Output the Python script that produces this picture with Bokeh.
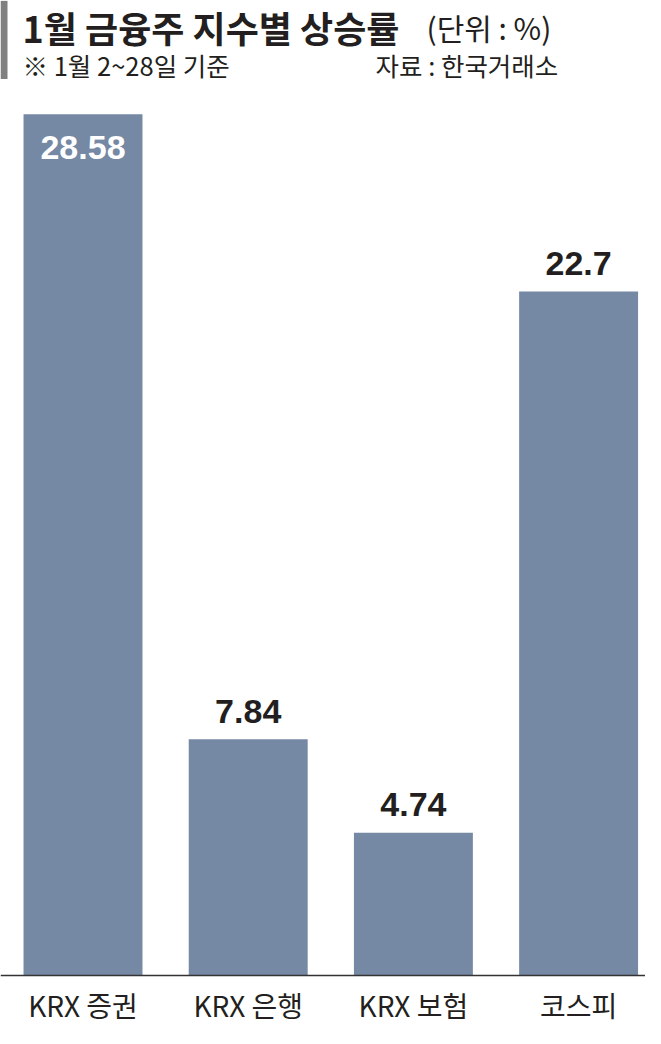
from bokeh.plotting import figure
from bokeh.models import Range1d, Span
from bokeh.core.properties import value
from bokeh.embed import file_html
from bokeh.resources import INLINE

# ---- data ----
categories = ["KRX 증권", "KRX 은행", "KRX 보험", "코스피"]
rates = [28.58, 7.84, 4.74, 22.7]
rate_labels = ["28.58", "7.84", "4.74", "22.7"]
title_text = "1월 금융주 지수별 상승률"
unit_text = "(단위 : %)"
note_text = "※ 1월 2~28일 기준"
source_text = "자료 : 한국거래소"

# ---- layout constants ----
W, H = 645, 1028
SY_A, SY_B = 0.16, 0.9797          # vertical map: canvas px = A + B * reference px
BASE_PX = SY_A + SY_B * 995         # baseline, px from top of canvas
PX_PER = 30.756 * SY_B              # px per percentage point
XPX = 165.2                         # px per category step
X0 = -82.5 / XPX                    # data x at left edge

def rx(ref):
    return X0 + ref / XPX

def ry(ref):
    fy = SY_A + SY_B * ref
    return (BASE_PX - fy) / PX_PER

KR = "Noto Sans CJK KR"
NUM = "Liberation Sans"
DARK = "#231f20"
BAR = "#7588a4"

p = figure(width=W, height=H, output_backend="svg", toolbar_location=None,
           x_range=Range1d(X0, X0 + W / XPX),
           y_range=Range1d(-(H - BASE_PX) / PX_PER, BASE_PX / PX_PER),
           min_border=0)
p.axis.visible = False
p.grid.visible = False
p.outline_line_color = None
p.background_fill_color = "white"
p.border_fill_color = "white"

xs = list(range(len(categories)))

# bars
p.vbar(x=xs, top=rates, bottom=0, width=0.72, fill_color=BAR, line_color=None)

# baseline axis line
p.add_layout(Span(location=0, dimension="width", line_color="#333333", line_width=1.6))

# value labels
top_val = max(rates)
in_x = [x for x, v in zip(xs, rates) if v == top_val]
in_y = [v for v in rates if v == top_val]
in_t = [t for t, v in zip(rate_labels, rates) if v == top_val]
out_x = [x for x, v in zip(xs, rates) if v != top_val]
out_y = [v for v in rates if v != top_val]
out_t = [t for t, v in zip(rate_labels, rates) if v != top_val]

p.text(x=in_x, y=in_y, text=in_t, text_align="center", text_baseline="middle",
       y_offset=33, text_color="white", text_font=value(NUM), text_font_style="bold",
       text_font_size="34px")
p.text(x=out_x, y=out_y, text=out_t, text_align="center", text_baseline="middle",
       y_offset=-28, text_color=DARK, text_font=value(NUM), text_font_style="bold",
       text_font_size="34px")

# category labels
p.text(x=xs, y=[ry(1025)] * len(xs), text=categories, text_align="center",
       text_baseline="middle", text_color=DARK, text_font=value(KR),
       text_font_size="28px")

# header strip
p.quad(left=[rx(0)], right=[rx(7)], top=[ry(0)], bottom=[ry(80)],
       fill_color="#808080", line_color=None)

# title and notes
p.text(x=[rx(22)], y=[ry(27)], text=[title_text], text_align="left", text_baseline="middle",
       text_color=DARK, text_font=value(KR), text_font_style="bold", text_font_size="36px")
p.text(x=[rx(426)], y=[ry(27)], text=[unit_text], text_align="left", text_baseline="middle",
       text_color=DARK, text_font=value(KR), text_font_size="30px")
p.text(x=[rx(22)], y=[ry(65)], text=[note_text], text_align="left", text_baseline="middle",
       text_color=DARK, text_font=value(KR), text_font_size="25.5px")
p.text(x=[rx(375)], y=[ry(65)], text=[source_text], text_align="left", text_baseline="middle",
       text_color=DARK, text_font=value(KR), text_font_size="25.5px")

open("out.html", "w").write(file_html(p, INLINE))
